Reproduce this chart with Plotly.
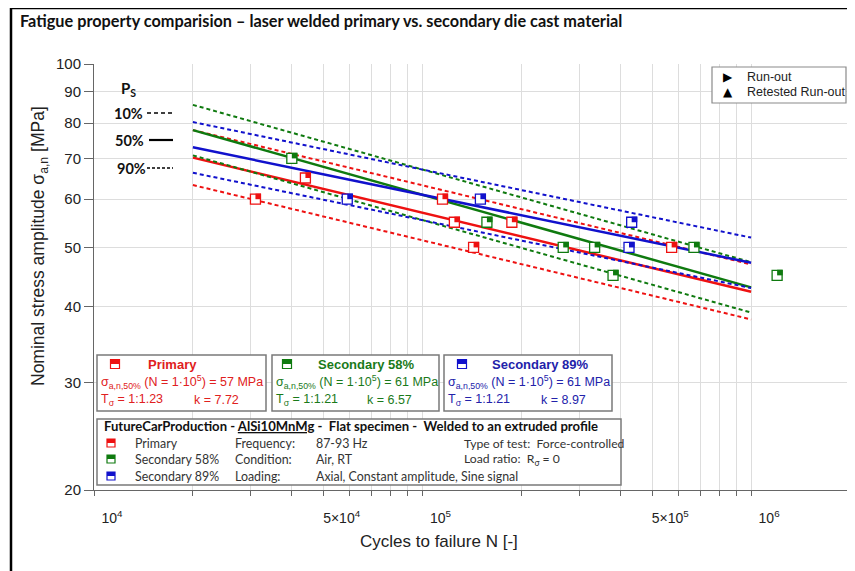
import numpy as np
import plotly.graph_objects as go

# ---------------- data ----------------
prim_N = [3.1e4, 4.4e4, 1.15e5, 1.25e5, 1.43e5, 1.87e5, 5.73e5]
prim_S = [60, 65, 60, 55, 50, 55, 50]
sec58_N = [4.0e4, 1.57e5, 2.68e5, 3.34e5, 3.8e5, 6.7e5, 1.2e6]
sec58_S = [70, 55, 50, 50, 45, 50, 45]
sec89_N = [5.9e4, 1.5e5, 4.25e5, 4.33e5]
sec89_S = [60, 60, 50, 55]

line_N = [2e4, 1e6]
prim_p10 = [77.9, 46.9]
prim_p50 = [70.2, 42.3]
prim_p90 = [63.3, 38.1]
sec58_p10 = [85.7, 47.3]
sec58_p50 = [77.9, 43.0]
sec58_p90 = [70.8, 39.1]
sec89_p10 = [80.3, 51.9]
sec89_p50 = [73.0, 47.2]
sec89_p90 = [66.3, 42.9]

x_tickvals = [1e4, 2e4, 3e4, 4e4, 5e4, 6e4, 7e4, 8e4, 9e4,
              1e5, 2e5, 3e5, 4e5, 5e5, 6e5, 7e5, 8e5, 9e5, 1e6, 2e6]
x_ticktext = ["10<sup>4</sup>", "", "", "", "5×10<sup>4</sup>", "", "", "", "",
              "10<sup>5</sup>", "", "", "", "5×10<sup>5</sup>", "", "", "", "", "10<sup>6</sup>", ""]
y_tickvals = [20, 30, 40, 50, 60, 70, 80, 90, 100]

RED = "#ee1111"
GREEN = "#0f7a0f"
BLUE = "#1111cc"
RED_T = "#e02020"
GREEN_T = "#1a7a1a"
BLUE_T = "#2222aa"

ARIAL = "Liberation Sans"
CALIBRI = "Lato"

# the page body adds an 8px margin; work in page pixels and convert
OFF = 8
W, H = 855 - OFF, 571 - OFF
L, R, T, B = 94 - OFF, 5, 64 - OFF, 81
PW = W - L - R
PH = H - T - B


def px(x):
    return (x - OFF - L) / PW


def py(y):
    return (H - B - (y - OFF)) / PH


fig = go.Figure()

series = [
    (prim_N, prim_S, prim_p10, prim_p50, prim_p90, RED),
    (sec58_N, sec58_S, sec58_p10, sec58_p50, sec58_p90, GREEN),
    (sec89_N, sec89_S, sec89_p10, sec89_p50, sec89_p90, BLUE),
]

for N, S, p10, p50, p90, col in series:
    for band in (p10, p90):
        fig.add_trace(go.Scatter(x=line_N, y=band, mode="lines",
                                 line=dict(color=col, width=2, dash="4px,3px"),
                                 showlegend=False, hoverinfo="skip"))
    fig.add_trace(go.Scatter(x=line_N, y=p50, mode="lines",
                             line=dict(color=col, width=2.5),
                             showlegend=False, hoverinfo="skip"))

shapes = []
for N, S, p10, p50, p90, col in series:
    fig.add_trace(go.Scatter(x=N, y=S, mode="markers",
                             marker=dict(symbol="square", size=10, color="white",
                                         line=dict(color=col, width=1.3)),
                             showlegend=False))
    for n, s in zip(N, S):
        shapes.append(dict(type="rect", xref="x", yref="y",
                           xsizemode="pixel", ysizemode="pixel",
                           xanchor=n, yanchor=s,
                           x0=-5.6, x1=5.6, y0=0, y1=5.6,
                           fillcolor=col, line=dict(width=0)))

annotations = []


def text(x, y, s, size=13, color="#222", family=ARIAL, xanchor="left", bold=False, **kw):
    if bold:
        s = "<b>" + s + "</b>"
    annotations.append(dict(xref="paper", yref="paper", x=px(x), y=py(y), text=s,
                            showarrow=False, xanchor=xanchor, yanchor="middle",
                            font=dict(size=size, color=color, family=family), **kw))


def box(x0, y0, x1, y1, color="#7a7a7a", width=1.5):
    shapes.append(dict(type="rect", xref="paper", yref="paper",
                       x0=px(x0), x1=px(x1), y0=py(y1), y1=py(y0),
                       line=dict(color=color, width=width), fillcolor="white"))


def icon(x, y, col, size=9):
    h = size / 2
    shapes.append(dict(type="rect", xref="paper", yref="paper",
                       xsizemode="pixel", ysizemode="pixel",
                       xanchor=px(x), yanchor=py(y), x0=-h, x1=h, y0=-h, y1=h,
                       fillcolor="white", line=dict(color=col, width=1.2)))
    shapes.append(dict(type="rect", xref="paper", yref="paper",
                       xsizemode="pixel", ysizemode="pixel",
                       xanchor=px(x), yanchor=py(y), x0=-h, x1=h, y0=0, y1=h,
                       fillcolor=col, line=dict(width=0)))


def hline(x0, x1, y, dash="solid", width=1.5, color="black"):
    shapes.append(dict(type="line", xref="paper", yref="paper",
                       x0=px(x0), x1=px(x1), y0=py(y), y1=py(y),
                       line=dict(color=color, width=width, dash=dash)))


# outer black frame
shapes.append(dict(type="rect", xref="paper", yref="paper",
                   x0=px(11), x1=px(900), y0=py(620), y1=py(8),
                   line=dict(color="black", width=2.5), fillcolor="rgba(0,0,0,0)"))

# title
text(18, 20, "Fatigue property comparision – laser welded primary vs. secondary die cast material",
     size=16.3, color="#111", family=CALIBRI, bold=True)

# axis titles
annotations.append(dict(xref="paper", yref="paper", x=px(40), y=py(246),
                        text="Nominal stress amplitude σ<sub>a,n</sub> [MPa]", textangle=-90,
                        showarrow=False, xanchor="center", yanchor="middle",
                        font=dict(size=17.5, color="#222", family=ARIAL)))
text(439, 541, "Cycles to failure N [-]", size=17, xanchor="center")

# P_S legend
text(128, 89, "P<sub>S</sub>", size=15, color="#111", family=CALIBRI, xanchor="center", bold=True)
text(128, 113, "10%", size=14.5, color="#111", family=CALIBRI, xanchor="center", bold=True)
hline(147, 173, 113, dash="4px,3px", width=1.5)
text(129, 140, "50%", size=14.5, color="#111", family=CALIBRI, xanchor="center", bold=True)
hline(149, 173, 140, width=2.2)
text(131, 168, "90%", size=14.5, color="#111", family=CALIBRI, xanchor="center", bold=True)
hline(147, 173, 168, dash="3px,2px", width=1.5)

# run-out legend
box(712, 67, 846, 103, color="#8a8a8a", width=1.2)
text(728, 77, "▶", size=12, color="black", family="DejaVu Sans", xanchor="center")
text(745, 77, "Run-out", size=12.5)
text(728, 92, "▲", size=12, color="black", family="DejaVu Sans", xanchor="center")
text(745, 92, "Retested Run-out", size=12.5)

# three statistics boxes
stats = [
    (97, 266, 115, 172, "Primary", RED, RED_T, "57", "1:1.23", "7.72", 192),
    (272, 439, 287, 366, "Secondary 58%", GREEN, GREEN_T, "61", "1:1.21", "6.57", 365),
    (444, 612, 462, 540, "Secondary 89%", BLUE, BLUE_T, "61", "1:1.21", "8.97", 539),
]
for bx0, bx1, ix, tcx, name, col, tcol, s50, tsig, k, kx in stats:
    box(bx0, 355, bx1, 411)
    icon(ix, 364, col)
    text(tcx, 364, name, size=13, color=tcol, xanchor="center", bold=True)
    text(bx0 + 1.5, 382, "σ<sub>a,n,50%</sub> (N = 1·10<sup>5</sup>) = " + s50 + " MPa",
         size=12.5, color=tcol)
    text(bx0 + 1.5, 400, "T<sub>σ</sub> = " + tsig, size=12.5, color=tcol)
    text(kx, 400, "k = " + k, size=12.5, color=tcol)

# info box
box(97, 419, 621, 485)
text(102, 426, "FutureCarProduction - <u>AlSi10MnMg</u> -  Flat specimen -  Welded to an extruded profile",
     size=13.1, color="#111", family=CALIBRI, bold=True)
rows = [
    (443, RED, "Primary", "Frequency:", "87-93 Hz", "Type of test:  Force-controlled"),
    (459, GREEN, "Secondary 58%", "Condition:", "Air, RT", "Load ratio:  R<sub>σ</sub> = 0"),
    (476, BLUE, "Secondary 89%", "Loading:", "Axial, Constant amplitude, Sine signal", ""),
]
for ry, col, lab, key, val, extra in rows:
    icon(111, ry, col, size=8)
    text(133, ry, lab, size=12.4, color="#333", family=CALIBRI)
    text(233, ry, key, size=12.4, color="#333", family=CALIBRI)
    text(314, ry, val, size=12.4, color="#333", family=CALIBRI)
    if extra:
        text(462, ry, extra, size=12.2, color="#333", family=CALIBRI)

fig.update_layout(
    width=W, height=H,
    margin=dict(l=L, r=R, t=T, b=B),
    paper_bgcolor="white", plot_bgcolor="white",
    shapes=shapes, annotations=annotations,
    showlegend=False,
    xaxis=dict(type="log", range=[4, np.log10(2e6)], tickmode="array",
               tickvals=x_tickvals, ticktext=x_ticktext,
               showgrid=True, gridcolor="#dddddd", gridwidth=1,
               ticks="outside", ticklen=5, tickcolor="#666",
               showline=True, linecolor="#666", linewidth=1, zeroline=False,
               ticklabelshift=18, ticklabelstandoff=10,
               tickfont=dict(size=14, color="#222", family=ARIAL)),
    yaxis=dict(type="log", range=[np.log10(20), 2], tickmode="array",
               tickvals=y_tickvals, ticktext=[str(v) for v in y_tickvals],
               showgrid=True, gridcolor="#dddddd", gridwidth=1,
               ticks="outside", ticklen=9, tickcolor="#666",
               showline=True, linecolor="#666", linewidth=1, zeroline=False,
               tickfont=dict(size=15, color="#222", family=ARIAL)),
)

fig.write_html("out.html")
